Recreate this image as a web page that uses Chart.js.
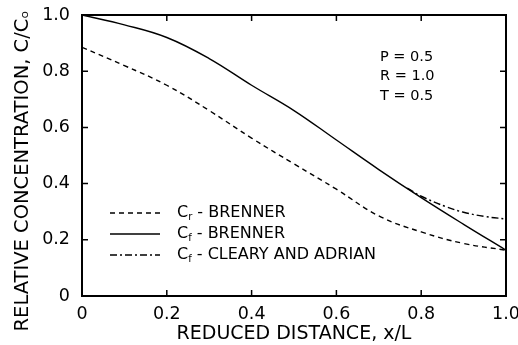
<!DOCTYPE html>
<html>
<head>
<meta charset="utf-8">
<script src="https://cdn.jsdelivr.net/npm/chart.js@4.4.1/dist/chart.umd.min.js"></script>
<style>
  html, body { margin: 0; padding: 0; background: #fff; }
  #wrap { width: 518px; height: 345px; }
</style>
</head>
<body>
<div id="wrap"><canvas id="graph"></canvas></div>
<script>
// values
const xBrenner = [0, 0.1, 0.2, 0.3, 0.4, 0.5, 0.6, 0.7, 0.8, 0.9, 1.0];
const crBrenner = [0.885, 0.82, 0.75, 0.66, 0.562, 0.47, 0.38, 0.285, 0.228, 0.187, 0.163];
const cfBrenner = [1.0, 0.965, 0.92, 0.845, 0.75, 0.66, 0.555, 0.45, 0.35, 0.255, 0.163];
const xCleary = [0.767, 0.8, 0.86, 0.9, 0.95, 1.0];
const cfCleary = [0.384, 0.355, 0.317, 0.298, 0.283, 0.274];

const xTicks = [0, 0.2, 0.4, 0.6, 0.8, 1.0];
const yTicks = [0, 0.2, 0.4, 0.6, 0.8, 1.0];
const tickLabels = ['0', '0.2', '0.4', '0.6', '0.8', '1.0'];

const yTitle = 'RELATIVE CONCENTRATION, C/Cₒ';
const xTitle = 'REDUCED DISTANCE, x/L';

// legend: [main, subscript, rest]
const legendText = [
  ['C', 'r', ' - BRENNER'],
  ['C', 'f', ' - BRENNER'],
  ['C', 'f', ' - CLEARY AND ADRIAN']
];
const paramLines = ['P = 0.5', 'R = 1.0', 'T = 0.5'];

const FONT = 'DejaVu Sans';

function pts(xs, ys) {
  return xs.map((x, i) => ({x: x, y: ys[i]}));
}

function noPad(s) {
  s.paddingLeft = 0; s.paddingRight = 0; s.paddingTop = 0; s.paddingBottom = 0;
}

const dashes = [[5, 4], [], [7, 3, 2, 3]];

const framePlugin = {
  id: 'frame',
  afterDraw(chart) {
    const ctx = chart.ctx;
    const a = chart.chartArea;
    const xs = chart.scales.x, ys = chart.scales.y;
    ctx.save();
    ctx.strokeStyle = '#000';
    ctx.lineWidth = 2;
    ctx.strokeRect(a.left, a.top, a.right - a.left, a.bottom - a.top);
    ctx.lineWidth = 1.5;
    ctx.beginPath();
    xTicks.forEach(v => {
      const px = xs.getPixelForValue(v);
      ctx.moveTo(px, a.bottom); ctx.lineTo(px, a.bottom - 6);
      ctx.moveTo(px, a.top); ctx.lineTo(px, a.top + 6);
    });
    yTicks.forEach(v => {
      const py = ys.getPixelForValue(v);
      ctx.moveTo(a.left, py); ctx.lineTo(a.left + 6, py);
      ctx.moveTo(a.right, py); ctx.lineTo(a.right - 6, py);
    });
    ctx.stroke();

    ctx.fillStyle = '#000';
    ctx.textBaseline = 'middle';

    // y axis title, sits a little below the axis centre like the original
    ctx.save();
    ctx.translate(23, 171);
    ctx.rotate(-Math.PI / 2);
    ctx.textAlign = 'center';
    ctx.font = '19.5px "' + FONT + '"';
    ctx.fillText(yTitle, 0, 0);
    ctx.restore();

    // legend inside the plot
    const lx = a.left + 28, ly = a.top + 198;
    legendText.forEach((t, i) => {
      const y = ly + i * 21;
      ctx.setLineDash(dashes[i]);
      ctx.lineWidth = 1.3;
      ctx.beginPath();
      ctx.moveTo(lx, y); ctx.lineTo(lx + 50, y);
      ctx.stroke();
      ctx.setLineDash([]);
      let tx = lx + 67;
      ctx.font = '16px "' + FONT + '"';
      ctx.fillText(t[0], tx, y);
      tx += ctx.measureText(t[0]).width;
      ctx.font = '10px "' + FONT + '"';
      ctx.fillText(t[1], tx, y + 4);
      tx += ctx.measureText(t[1]).width;
      ctx.font = '16px "' + FONT + '"';
      ctx.fillText(t[2], tx, y);
    });

    // parameters
    ctx.font = '14.5px "' + FONT + '"';
    paramLines.forEach((s, i) => {
      ctx.fillText(s, a.left + 298, a.top + 42 + i * 19.5);
    });
    ctx.restore();
  }
};

new Chart(document.getElementById('graph'), {
  type: 'line',
  data: {
    datasets: [
      {label: 'Cr - BRENNER', data: pts(xBrenner, crBrenner), borderDash: dashes[0]},
      {label: 'Cf - BRENNER', data: pts(xBrenner, cfBrenner), borderDash: dashes[1]},
      {label: 'Cf - CLEARY AND ADRIAN', data: pts(xCleary, cfCleary), borderDash: dashes[2]}
    ].map(d => Object.assign(d, {
      borderColor: '#000', borderWidth: 1.4, pointRadius: 0, tension: 0.4, fill: false
    }))
  },
  options: {
    responsive: true,
    maintainAspectRatio: false,
    animation: false,
    layout: {padding: {left: 0, right: 12, top: 15, bottom: 0}},
    plugins: {legend: {display: false}, tooltip: {enabled: false}},
    scales: {
      x: {
        type: 'linear', min: 0, max: 1,
        afterBuildTicks: s => { s.ticks = xTicks.map(v => ({value: v})); },
        afterFit: s => { s.height = 49; noPad(s); },
        grid: {display: false, drawTicks: false},
        border: {display: false},
        ticks: {
          color: '#000', padding: 8,
          font: {family: FONT, size: 17.5},
          callback: (v, i) => tickLabels[i]
        },
        title: {
          display: true, text: xTitle, color: '#000',
          font: {family: FONT, size: 19}, padding: {top: -4, bottom: 0}
        }
      },
      y: {
        type: 'linear', min: 0, max: 1,
        afterBuildTicks: s => { s.ticks = yTicks.map(v => ({value: v})); },
        afterFit: s => { s.width = 82; noPad(s); },
        grid: {display: false, drawTicks: false},
        border: {display: false},
        ticks: {
          color: '#000', padding: 12,
          font: {family: FONT, size: 17.5},
          callback: (v, i) => tickLabels[i]
        },
        title: {display: false}
      }
    }
  },
  plugins: [framePlugin]
});
</script>
</body>
</html>
